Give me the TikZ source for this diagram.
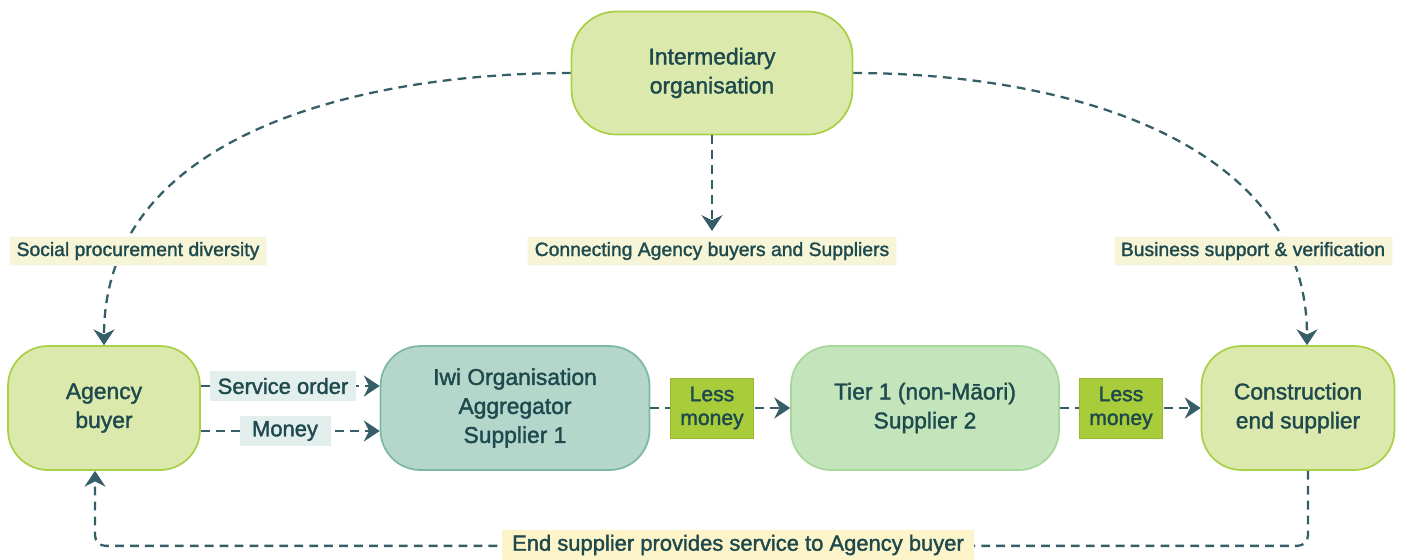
\documentclass[tikz,border=0pt]{standalone}
\usepackage{fontspec}
\setmainfont{Liberation Sans}[UprightFeatures={FakeBold=1.6}]
\usetikzlibrary{arrows.meta}

\definecolor{ink}{HTML}{1E4A4E}
\definecolor{wire}{HTML}{365E66}
\definecolor{limefill}{HTML}{DCE9AD}
\definecolor{limeline}{HTML}{A9D049}
\definecolor{iwifill}{HTML}{B5D6CB}
\definecolor{iwiline}{HTML}{7DB8A5}
\definecolor{tierfill}{HTML}{C4E5BC}
\definecolor{tierline}{HTML}{A7D79A}
\definecolor{creamfill}{HTML}{F7F5D8}
\definecolor{orderfill}{HTML}{E3EFEC}
\definecolor{lessfill}{HTML}{A8CC3A}
\definecolor{notefill}{HTML}{FDF5C9}

\tikzset{
  party/.style={draw, line width=1pt, rounded corners=0.8cm, align=center,
    minimum height=2.48cm, text=ink, font=\fontsize{13}{16.5}\selectfont},
  lime/.style={party, fill=limefill, draw=limeline},
  flow/.style={color=wire, line width=1.3pt, dash pattern=on 5pt off 3.5pt,
    -{Stealth[length=9pt, width=12pt, inset=3pt]}},
  tag/.style={fill=creamfill, draw=creamfill!80!black!8, text=ink,
    inner xsep=0.14cm, inner ysep=0pt, minimum height=0.58cm,
    font=\fontsize{11}{13}\selectfont},
  order/.style={tag, fill=orderfill, draw=orderfill, font=\fontsize{12.5}{15}\selectfont},
  less/.style={fill=lessfill, draw=lessfill!90!black, text=ink, align=center,
    inner xsep=0.2cm, minimum height=1.2cm, inner ysep=0pt,
    font=\fontsize{12}{13.5}\selectfont},
}

\begin{document}
\begin{tikzpicture}[x=0.02cm, y=0.02cm]

  \useasboundingbox (0,0) rectangle (1407,-559);

  \node[lime, minimum width=5.62cm, minimum height=2.46cm, rounded corners=0.9cm] (im) at (712,-73) {Intermediary\\organisation};
  \node[lime, minimum width=3.84cm] (ag) at (104,-408) {Agency\\buyer};
  \node[party, fill=iwifill, draw=iwiline, minimum width=5.38cm] (iw) at (515,-408) {Iwi Organisation\\Aggregator\\Supplier 1};
  \node[party, fill=tierfill, draw=tierline, minimum width=5.36cm] (ti) at (925,-408) {Tier 1 (non-Māori)\\Supplier 2};
  \node[lime, minimum width=3.86cm] (co) at (1298,-408) {Construction\\end supplier};

  \node[tag] (cn) at (712,-251) {Connecting Agency buyers and Suppliers};

  \path[flow]
  (im.west) edge[out=180, in=90] (ag.north)
  (im.east) edge[out=0, in=90] ([xshift=0.18cm]co.north)
  (im.south) edge[shorten >=3pt] (cn.north)

  ([yshift=0.44cm]ag.east) edge ([yshift=0.44cm]iw.west)
  ([yshift=-0.46cm]ag.east) edge ([yshift=-0.46cm]iw.west)

  (iw) edge (ti)
  (ti) edge (co);

  % way back from the end supplier
  \draw[flow, rounded corners=6pt] ([xshift=0.2cm]co.south) -- ++(0,-75) -| ([xshift=-0.18cm]ag.south);

  \node[tag] (sp) at (138,-251) {Social procurement diversity};
  \node[tag] (bs) at (1253,-251) {Business support \& verification};
  \node[order] (so) at (283,-386) {Service order};
  \node[order, inner xsep=0.24cm] (mo) at (285,-431) {Money};
  \node[less] (l1) at (712,-408) {Less\\money};
  \node[less] (l2) at (1121,-408) {Less\\money};
  \node[tag, fill=notefill, draw=notefill, inner xsep=0.2cm, font=\fontsize{12.5}{15}\selectfont] (es) at (738,-545) {End supplier provides service to Agency buyer};

\end{tikzpicture}
\end{document}
